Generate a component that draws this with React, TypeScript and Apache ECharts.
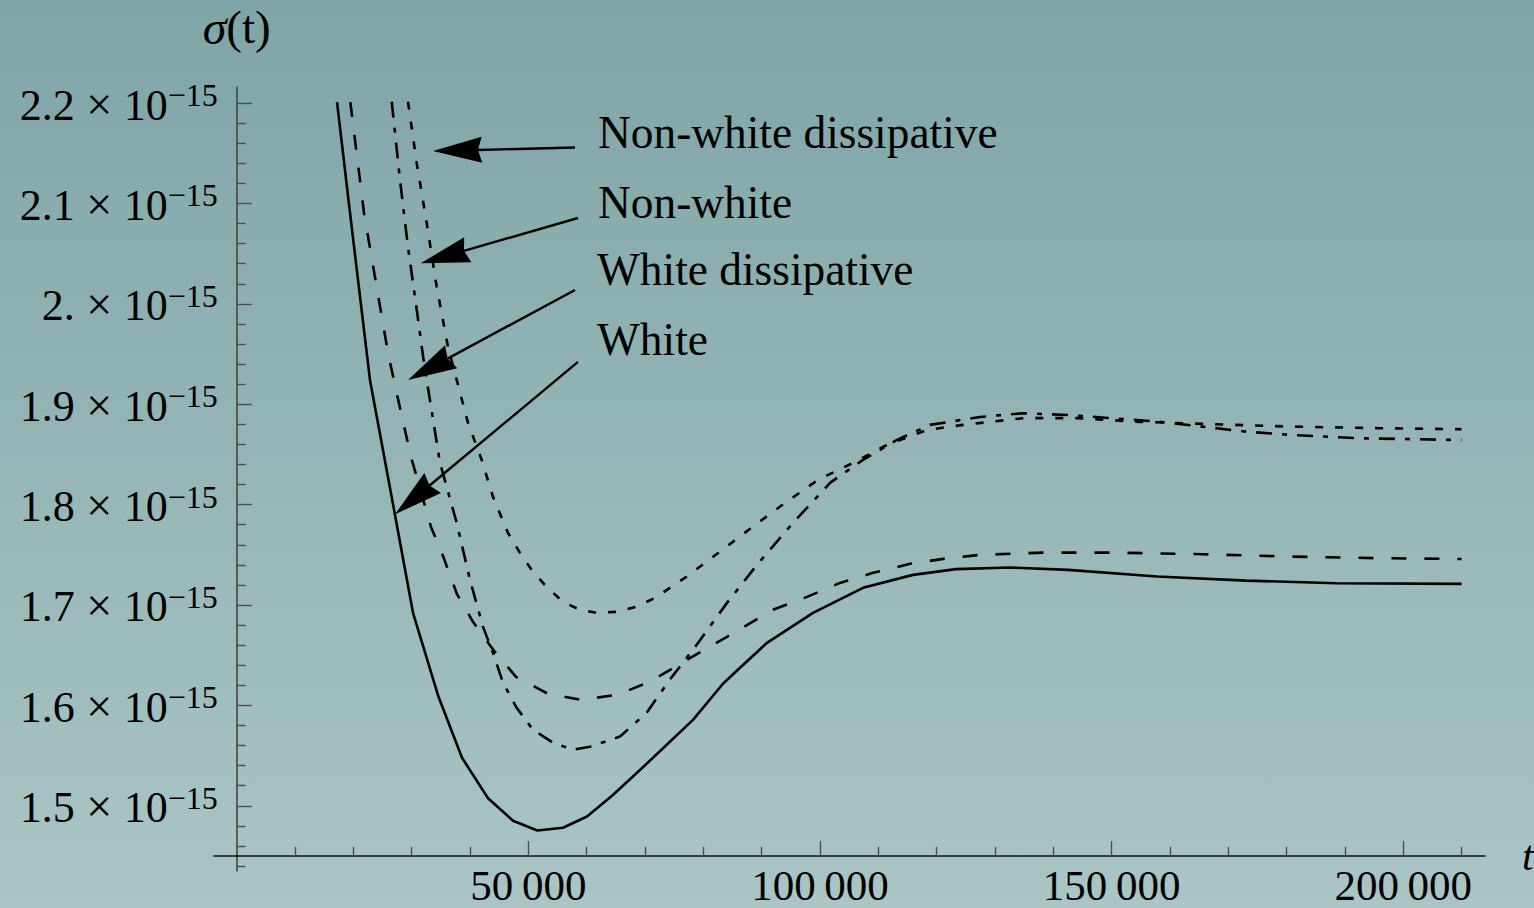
import React, { useEffect, useRef } from "react";
import * as echarts from "echarts";

// ---- data (σ in units of 1e-15) ----
const whiteT = [17200, 19430, 22850, 27140, 30230, 34600, 38630, 43090, 47370, 51540, 55940, 60060, 64350, 68630, 71370, 78230, 83370, 86290, 90920, 98810, 107380, 115950, 123330, 132580, 142530, 157790, 173050, 188480, 210000];
const whiteS = [2.201, 2.0905, 1.9242, 1.7897, 1.6922, 1.6085, 1.5478, 1.5075, 1.4851, 1.4754, 1.4781, 1.4893, 1.51, 1.5329, 1.5478, 1.5856, 1.6215, 1.6374, 1.6623, 1.6922, 1.7171, 1.73, 1.7357, 1.7373, 1.735, 1.7283, 1.7243, 1.7217, 1.721];

const whiteDissT = [19480, 21830, 23880, 25940, 27310, 29880, 33310, 35370, 37750, 40510, 44110, 47890, 53380, 59030, 65210, 70860, 77200, 84060, 91950, 97780, 103440, 109090, 115440, 121100, 127440, 138590, 150070, 165500, 180760, 196020, 210000];
const whiteDissS = [2.201, 2.0905, 2.0208, 1.9511, 1.9142, 1.8475, 1.7778, 1.7489, 1.7111, 1.6832, 1.6543, 1.6284, 1.6115, 1.6055, 1.6105, 1.6235, 1.6454, 1.6683, 1.6952, 1.7081, 1.722, 1.732, 1.741, 1.7459, 1.7499, 1.7522, 1.7522, 1.7506, 1.7482, 1.7466, 1.7458];

const nonWhiteT = [26580, 28000, 29370, 30570, 32110, 34860, 37720, 40000, 42230, 43940, 45660, 48000, 50800, 54230, 57660, 60570, 65720, 70290, 74230, 78230, 84060, 89210, 95380, 101720, 107380, 113210, 118860, 127440, 134810, 142530, 150070, 157790, 165500, 173050, 180760, 192250, 210000];
const nonWhiteS = [2.2013, 2.1233, 2.0566, 2.0068, 1.9411, 1.8415, 1.7818, 1.725, 1.6782, 1.6523, 1.6225, 1.5976, 1.5757, 1.5627, 1.5558, 1.5588, 1.569, 1.5926, 1.6255, 1.6553, 1.7021, 1.74, 1.7818, 1.8216, 1.8445, 1.8645, 1.8794, 1.8873, 1.891, 1.8893, 1.886, 1.8827, 1.8777, 1.8727, 1.8694, 1.8661, 1.8643];

const nonWhiteDissT = [29370, 30860, 32580, 34290, 36230, 37940, 39660, 42010, 43940, 46510, 48570, 50800, 53150, 55940, 58860, 61720, 65150, 68580, 71720, 77150, 82860, 88520, 94010, 99660, 105660, 111490, 118350, 124520, 134810, 144070, 154010, 165500, 180760, 196020, 210000];
const nonWhiteDissS = [2.2013, 2.1403, 2.0805, 2.0168, 1.957, 1.9192, 1.8814, 1.8445, 1.8077, 1.7718, 1.7519, 1.733, 1.7181, 1.7031, 1.6952, 1.6922, 1.6932, 1.6984, 1.7071, 1.7283, 1.7532, 1.7781, 1.8017, 1.8246, 1.8415, 1.8595, 1.8744, 1.8794, 1.8861, 1.8861, 1.8827, 1.8804, 1.8777, 1.8761, 1.8751];

// tick values / labels
const xMajorValues = [50000, 100000, 150000, 200000];
const xTickLabels = ["50\u2009000", "100\u2009000", "150\u2009000", "200\u2009000"];
const xMinorValues = [10000, 20000, 30000, 40000, 60000, 70000, 80000, 90000, 110000, 120000, 130000, 140000, 160000, 170000, 180000, 190000, 210000];
const yMajorValues = [1.5, 1.6, 1.7, 1.8, 1.9, 2.0, 2.1, 2.2];
const yTickLabels = ["1.5", "1.6", "1.7", "1.8", "1.9", "2.", "2.1", "2.2"];
const yMinorValues = [1.44, 1.46, 1.48, 1.52, 1.54, 1.56, 1.58, 1.62, 1.64, 1.66, 1.68, 1.72, 1.74, 1.76, 1.78, 1.82, 1.84, 1.86, 1.88, 1.92, 1.94, 1.96, 1.98, 2.02, 2.04, 2.06, 2.08, 2.12, 2.14, 2.16, 2.18];

// annotations: label text, arrow tail (t, σ) and tip (t, σ)
const annoLabels = ["Non-white dissipative", "Non-white", "White dissipative", "White"];
const annoTail = [[58000, 2.1557], [58510, 2.0855], [58000, 2.0138], [58510, 1.9421]];
const annoTip = [[33650, 2.1522], [31545, 2.0404], [29370, 1.9242], [27140, 1.7903]];

// axis extents
const X_MIN = -3892;
const X_MAX = 214020;
const Y_MIN = 1.435;
const Y_MAX = 2.216;
const X_CROSS = 1.45;

const FONT = '"Liberation Serif", "Times New Roman", "DejaVu Serif", serif';

const zip = (a: number[], b: number[]) => a.map((v, i) => [v, b[i]]);

export default function App() {
  const ref = useRef<HTMLDivElement>(null);
  useEffect(() => {
    document.body.style.margin = "0";
    const chart = echarts.init(ref.current!, null, { renderer: "svg" });
    const gridLeft = 214, gridRight = 49, gridTop = 87, gridBottom = 37;
    const gridW = 1534 - gridLeft - gridRight;
    const gridH = 908 - gridTop - gridBottom;
    const yOffset = -((0 - X_MIN) * gridW) / (X_MAX - X_MIN);
    const xOffset = -((X_CROSS - Y_MIN) * gridH) / (Y_MAX - Y_MIN);

    const tickStyle = { color: "#4d4d4d", width: 1.4 };
    const xCommon: any = {
      type: "value", min: X_MIN, max: X_MAX, position: "bottom", offset: xOffset,
      splitLine: { show: false },
    };
    const yCommon: any = {
      type: "value", min: Y_MIN, max: Y_MAX, position: "left", offset: yOffset,
      splitLine: { show: false },
    };

    const lineSeries = (name: string, t: number[], s: number[], type: any) => ({
      type: "line", name, data: zip(t, s), symbol: "none", showSymbol: false,
      xAxisIndex: 0, yAxisIndex: 0, silent: true, clip: true,
      lineStyle: { color: "#000", width: 2.6, type },
    });

    chart.setOption({
      animation: false,
      backgroundColor: new echarts.graphic.LinearGradient(0, 0, 0, 1, [
        { offset: 0, color: "#7fa5a6" },
        { offset: 1, color: "#abc5c5" },
      ]),
      grid: { left: gridLeft, right: gridRight, top: gridTop, bottom: gridBottom, containLabel: false, outerBoundsMode: "none" },
      xAxis: [
        {
          ...xCommon,
          axisLine: { show: true, lineStyle: { color: "#111", width: 1.6 } },
          axisTick: { show: true, inside: true, length: 9, customValues: xMinorValues, lineStyle: tickStyle },
          axisLabel: {
            show: true, customValues: xMajorValues, margin: 8, color: "#000",
            fontFamily: FONT, fontSize: 43, lineHeight: 43,
            formatter: (v: number) => {
              const i = xMajorValues.findIndex((m) => Math.abs(m - v) < 1);
              return i >= 0 ? xTickLabels[i] : "";
            },
          },
          name: "t", nameLocation: "end", nameGap: 37,
          nameTextStyle: { fontFamily: FONT, fontStyle: "italic", fontSize: 42, color: "#000" },
        },
        {
          ...xCommon,
          axisLine: { show: false },
          axisTick: { show: true, inside: true, length: 15, customValues: xMajorValues, lineStyle: tickStyle },
          axisLabel: { show: false },
        },
      ],
      yAxis: [
        {
          ...yCommon,
          axisLine: { show: true, lineStyle: { color: "#444", width: 1.6 } },
          axisTick: { show: true, inside: true, length: 9, customValues: yMinorValues, lineStyle: tickStyle },
          axisLabel: {
            show: true, customValues: yMajorValues, margin: 19, color: "#000",
            formatter: (v: number) => {
              const i = yMajorValues.findIndex((m) => Math.abs(m - v) < 1e-6);
              const lab = i >= 0 ? yTickLabels[i] : "";
              return `{m|${lab}}{x| × }{m|10}{s|−15}`;
            },
            rich: {
              m: { fontFamily: FONT, fontSize: 44, lineHeight: 48, color: "#000", verticalAlign: "bottom" },
              x: { fontFamily: FONT, fontSize: 46, lineHeight: 48, color: "#000", verticalAlign: "bottom" },
              s: { fontFamily: FONT, fontSize: 32, lineHeight: 31, color: "#000", verticalAlign: "top" },
            },
          },
          name: "{i|σ}{n|(t)}", nameLocation: "end", nameGap: 36,
          nameTextStyle: {
            align: "center",
            rich: {
              i: { fontFamily: FONT, fontStyle: "italic", fontSize: 48, color: "#000" },
              n: { fontFamily: FONT, fontSize: 47, color: "#000" },
            },
          },
        },
        {
          ...yCommon,
          axisLine: { show: false },
          axisTick: { show: true, inside: true, length: 15, customValues: yMajorValues, lineStyle: tickStyle },
          axisLabel: { show: false },
        },
      ],
      series: [
        lineSeries("White", whiteT, whiteS, "solid"),
        lineSeries("White dissipative", whiteDissT, whiteDissS, [15, 18]),
        lineSeries("Non-white", nonWhiteT, nonWhiteS, [16, 10, 5, 10]),
        lineSeries("Non-white dissipative", nonWhiteDissT, nonWhiteDissS, [8, 12]),
      ],
    });

    // annotation arrows and texts
    const graphics: any[] = [];
    const headLen = 49, headHalfW = 13, notch = 45;
    annoTail.forEach((tail, i) => {
      const p1 = chart.convertToPixel({ xAxisIndex: 0, yAxisIndex: 0 }, tail) as number[];
      const p2 = chart.convertToPixel({ xAxisIndex: 0, yAxisIndex: 0 }, annoTip[i]) as number[];
      const dx = p2[0] - p1[0], dy = p2[1] - p1[1];
      const L = Math.hypot(dx, dy);
      const ux = dx / L, uy = dy / L, nx = -uy, ny = ux;
      const bx = p2[0] - ux * headLen, by = p2[1] - uy * headLen;
      const qx = p2[0] - ux * notch, qy = p2[1] - uy * notch;
      graphics.push({
        type: "line", silent: true,
        shape: { x1: p1[0], y1: p1[1], x2: qx, y2: qy },
        style: { stroke: "#000", lineWidth: 2.4 },
      });
      graphics.push({
        type: "polygon", silent: true,
        shape: { points: [[p2[0], p2[1]], [bx + nx * headHalfW, by + ny * headHalfW], [qx, qy], [bx - nx * headHalfW, by - ny * headHalfW]] },
        style: { fill: "#000" },
      });
    });
    const textX = [598, 598, 597, 597];
    const textBaseline = [148, 218, 285, 355];
    annoLabels.forEach((txt, i) => {
      graphics.push({
        type: "text", silent: true, x: textX[i], y: textBaseline[i] - 15,
        style: { text: txt, fontFamily: FONT, fontSize: 45.4, fill: "#000", align: "left", verticalAlign: "middle" },
      });
    });
    chart.setOption({ graphic: graphics });

    return () => chart.dispose();
  }, []);
  return <div ref={ref} style={{ position: "absolute", left: 0, top: 0, width: 1534, height: 908 }} />;
}
